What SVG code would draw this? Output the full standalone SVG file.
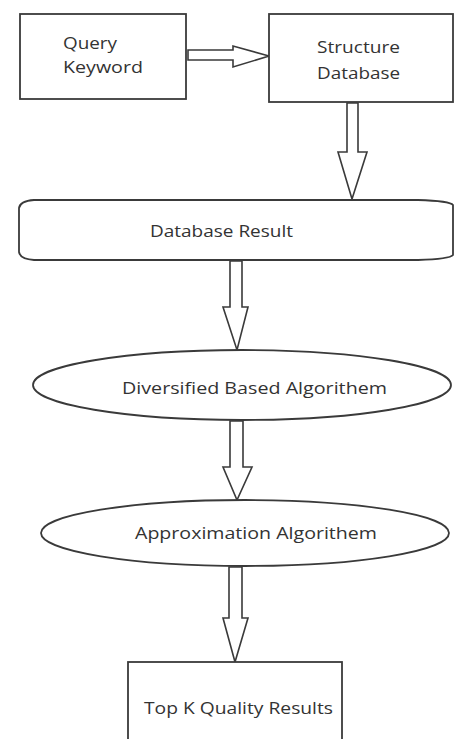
<svg xmlns="http://www.w3.org/2000/svg" width="454" height="739" viewBox="0 0 454 739">
<style>
.s{fill:#fff;stroke:#3a3a3a;stroke-width:1.8}
.a{fill:#fff;stroke:#3a3a3a;stroke-width:1.6;stroke-linejoin:miter}
.t{font-family:"Open Sans","Liberation Sans",Arial,sans-serif;font-size:17px;fill:#333}
</style>
<rect width="454" height="739" fill="#fff"/>
<g id="connectors">
<path class="a" d="M188,50 L233,50 L233,46 L269,56 L233,67 L233,60 L188,60 Z"/>
<path class="a" d="M347,103 L358,103 L358,152 L367,152 L352,199 L338,152 L347,152 Z"/>
<path class="a" d="M230,261 L242,261 L242,307 L248,307 L237,350 L223,307 L230,307 Z"/>
<path class="a" d="M230,421 L243,421 L243,467 L252,467 L237,500 L223,467 L230,467 Z"/>
<path class="a" d="M229,567 L242,567 L242,618 L248,618 L235,662 L223,618 L229,618 Z"/>
</g>
<g id="query-keyword">
<rect class="s" x="20" y="14" width="166" height="85"/>
<text class="t" x="63" y="49" textLength="54" lengthAdjust="spacingAndGlyphs">Query</text>
<text class="t" x="63" y="73" textLength="80" lengthAdjust="spacingAndGlyphs">Keyword</text>
</g>
<g id="structure-database">
<rect class="s" x="269" y="14" width="184" height="88"/>
<text class="t" x="317" y="53" textLength="83" lengthAdjust="spacingAndGlyphs">Structure</text>
<text class="t" x="317" y="79" textLength="83" lengthAdjust="spacingAndGlyphs">Database</text>
</g>
<g id="database-result">
<path class="s" d="M34,200 L418,200 Q450,201 453,205 L453,255 Q450,259 418,260 L34,260 Q20,259 19,252 L19,208 Q20,201 34,200 Z"/>
<text class="t" x="150" y="237" textLength="143" lengthAdjust="spacingAndGlyphs">Database Result</text>
</g>
<g id="diversified">
<ellipse class="s" cx="242" cy="385" rx="209" ry="35"/>
<text class="t" x="122" y="394" textLength="265" lengthAdjust="spacingAndGlyphs">Diversified Based Algorithem</text>
</g>
<g id="approximation">
<ellipse class="s" cx="245" cy="533" rx="204" ry="33"/>
<text class="t" x="135" y="539" textLength="242" lengthAdjust="spacingAndGlyphs">Approximation Algorithem</text>
</g>
<g id="top-k">
<rect class="s" x="128" y="662" width="214" height="90"/>
<text class="t" x="144" y="714" textLength="189" lengthAdjust="spacingAndGlyphs">Top K Quality Results</text>
</g>
</svg>
